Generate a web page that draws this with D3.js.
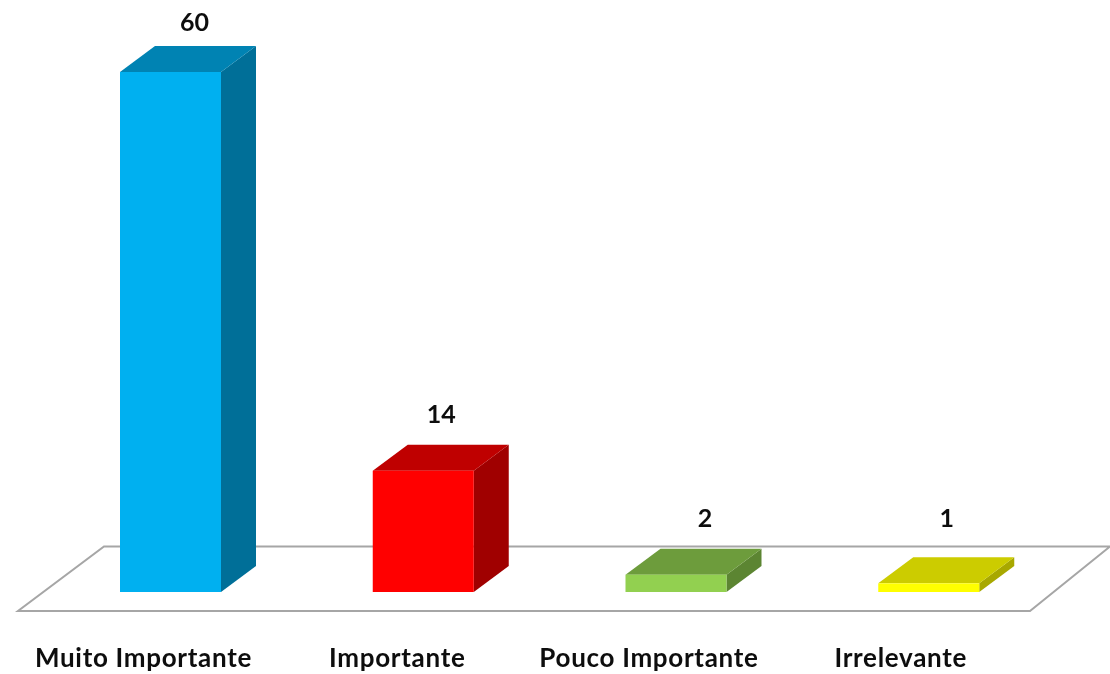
<!DOCTYPE html>
<html><head><meta charset="utf-8">
<script src="https://cdn.jsdelivr.net/npm/d3@7"></script>
<style>html,body{margin:0;padding:0;background:#fff}svg{display:block}
text{font-family:Lato,"Open Sans",sans-serif;fill:#111}</style></head>
<body><svg id="c" width="1110" height="674"><defs><filter id="soft" x="-5%" y="-20%" width="110%" height="140%"><feGaussianBlur stdDeviation="0.35"/></filter></defs></svg>
<script>
const categories=["Muito Importante","Importante","Pouco Importante","Irrelevante"];
const values=[60,14,2,1];
const frontColors=["#00b0f0","#ff0000","#92d050","#ffff00"];
const topColors=["#0083b3","#bf0000","#6d9c3c","#cccc00"];
const sideColors=["#006f98","#a00000","#5c8532","#a8a800"];

const W=1110,H=674,baseY=592,topY=72,dx=35,dy=26;
const svg=d3.select("#c");
const x=d3.scaleBand().domain(categories).range([120,1131]);
const barW=101;
const y=d3.scaleLinear().domain([0,60]).range([baseY,topY]);
const line=d3.line();

svg.append("path")
  .attr("d",line([[18,611],[1030,611],[1110,546.5],[104,546.5]])+"Z")
  .attr("fill","#fff").attr("stroke","#a6a6a6").attr("stroke-width",2);

const g=svg.selectAll("g.bar").data(categories.map((c,i)=>({c,i,v:values[i]}))).join("g").attr("class","bar");
g.append("path").attr("fill",d=>sideColors[d.i]).attr("d",d=>{
  const r=x(d.c)+barW,t=y(d.v);
  return line([[r,t],[r+dx,t-dy],[r+dx,baseY-dy],[r,baseY]])+"Z";});
g.append("path").attr("fill",d=>topColors[d.i]).attr("d",d=>{
  const l=x(d.c),t=y(d.v);
  return line([[l,t],[l+dx,t-dy],[l+barW+dx,t-dy],[l+barW,t]])+"Z";});
g.append("rect").attr("fill",d=>frontColors[d.i])
  .attr("x",d=>x(d.c)).attr("y",d=>y(d.v)).attr("width",barW).attr("height",d=>baseY-y(d.v));

const valueOffset=[24,18,29,18];
const valueLift=[15,22,22,30];
g.append("text").attr("text-anchor","middle").attr("font-size",25).attr("font-weight",700).attr("filter","url(#soft)")
  .attr("x",d=>x(d.c)+barW/2+valueOffset[d.i]).attr("y",d=>y(d.v)-dy-valueLift[d.i]).text(d=>d.v);

const labelOffset=[-27,-26,-27,-28];
g.append("text").attr("text-anchor","middle").attr("font-size",26).attr("font-weight",700).attr("letter-spacing",0.7).attr("filter","url(#soft)")
  .attr("x",d=>x(d.c)+barW/2+labelOffset[d.i]).attr("y",667).text(d=>d.c);
</script></body></html>
